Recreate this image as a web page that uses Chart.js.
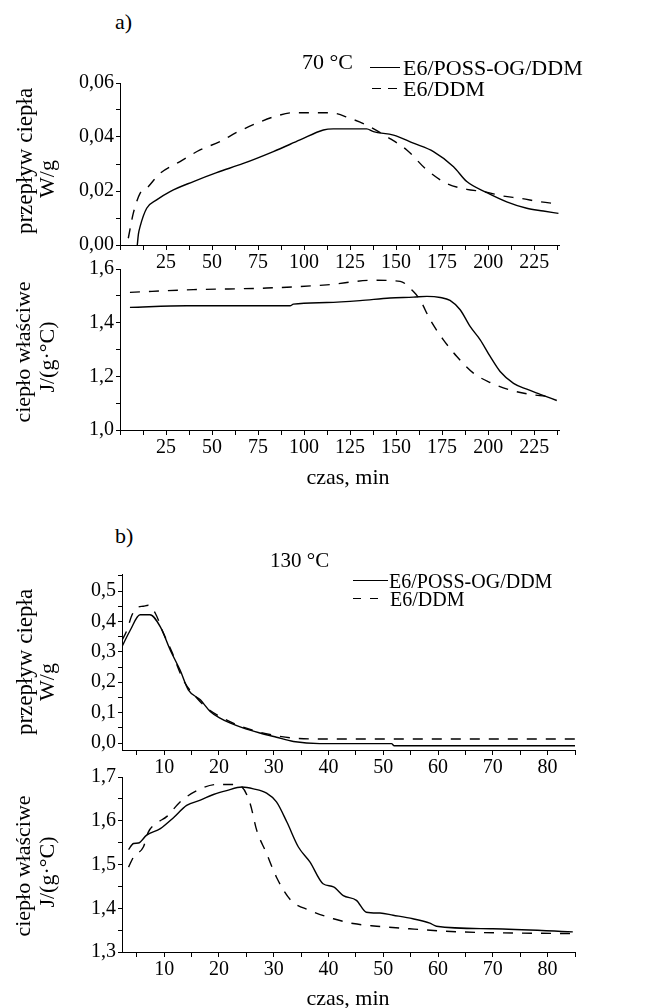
<!DOCTYPE html>
<html>
<head>
<meta charset="utf-8">
<script src="https://cdn.jsdelivr.net/npm/chart.js@4.4.0/dist/chart.umd.min.js"></script>
<style>
  body { margin: 0; background: #fff; }
  #page { position: relative; width: 650px; height: 1008px; overflow: hidden;
          font-family: "Liberation Serif", "Times New Roman", serif; color: #000; }
  .plot { position: absolute; left: 0; width: 650px; }
  .t { position: absolute; white-space: nowrap; line-height: 1; transform: translateY(-50%); }
  .c { transform: translate(-50%, -50%); }
  .r { transform: translate(-50%, -50%) rotate(-90deg); }
  .ln { position: absolute; height: 0; border-top: 1.5px solid #000; }
</style>
</head>
<body>
<div id="page">
  <div class="plot" style="top:63px;height:222px"><canvas id="aFlow"></canvas></div>
  <div class="plot" style="top:249px;height:221px"><canvas id="aCp"></canvas></div>
  <div class="plot" style="top:554px;height:236px"><canvas id="bFlow"></canvas></div>
  <div class="plot" style="top:757px;height:235px"><canvas id="bCp"></canvas></div>

  <div class="t" style="left:115px;top:22px;font-size:22px">a)</div>
  <div class="t" style="left:302px;top:62px;font-size:22px">70 °C</div>
  <div class="ln" style="left:370px;top:67px;width:30px"></div>
  <div class="t leg0" style="left:403px;top:68px;font-size:22px"></div>
  <div class="ln" style="left:372px;top:88px;width:9px"></div>
  <div class="ln" style="left:388px;top:88px;width:9px"></div>
  <div class="t leg1" style="left:403px;top:89px;font-size:22px"></div>

  <div class="t r" style="left:24px;top:161px;font-size:23px">przepływ ciepła</div>
  <div class="t r" style="left:47px;top:179px;font-size:22px">W/g</div>
  <div class="t r" style="left:23px;top:352px;font-size:22px">ciepło właściwe</div>
  <div class="t r" style="left:47px;top:357px;font-size:22px">J/(g·°C)</div>
  <div class="t c" style="left:348px;top:477px;font-size:22px">czas, min</div>

  <div class="t" style="left:115px;top:536px;font-size:22px">b)</div>
  <div class="t" style="left:270px;top:560px;font-size:21px">130 °C</div>
  <div class="ln" style="left:353px;top:580px;width:35px"></div>
  <div class="t leg0" style="left:389px;top:581px;font-size:20px"></div>
  <div class="ln" style="left:353px;top:598px;width:8px"></div>
  <div class="ln" style="left:370px;top:598px;width:8px"></div>
  <div class="t leg1" style="left:390px;top:599px;font-size:20px"></div>

  <div class="t r" style="left:24px;top:662px;font-size:23px">przepływ ciepła</div>
  <div class="t r" style="left:47px;top:682px;font-size:22px">W/g</div>
  <div class="t r" style="left:23px;top:866px;font-size:22px">ciepło właściwe</div>
  <div class="t r" style="left:47px;top:872px;font-size:22px">J/(g·°C)</div>
  <div class="t c" style="left:348px;top:998px;font-size:22px">czas, min</div>
</div>
<script>
// series names
const seriesNames = ["E6/POSS-OG/DDM", "E6/DDM"];

// a) 70 °C - heat flow, W/g
const aFlowTimeSolid = [9.4, 10, 10.9, 14.5, 19.9, 27.2, 39.9, 52.5, 67, 83.3, 97.8, 110.5, 115.9, 134, 137.7, 148.6, 159.4, 170.3, 181.2, 188.4, 199.3, 210.1, 221, 230, 238.2];
const aFlowSolid = [0, 0.004, 0.0068, 0.0136, 0.0167, 0.0198, 0.0235, 0.0268, 0.0302, 0.0346, 0.0389, 0.0426, 0.043, 0.043, 0.042, 0.0407, 0.0377, 0.0346, 0.029, 0.0235, 0.0194, 0.016, 0.0136, 0.0126, 0.0117];
const aFlowTimeDash = [4.5, 7.2, 10.9, 14.5, 21.7, 32.6, 43.5, 54.3, 63.4, 74.3, 85.1, 94.2, 114.1, 125, 134, 145, 155.8, 166.7, 177.5, 188.4, 197.5, 208.3, 217.4, 228.3, 238.2];
const aFlowDash = [0.0025, 0.0117, 0.0191, 0.021, 0.0265, 0.0309, 0.0352, 0.0383, 0.0417, 0.0451, 0.0478, 0.049, 0.049, 0.0469, 0.0444, 0.0401, 0.0352, 0.0278, 0.0228, 0.0206, 0.0198, 0.0181, 0.0173, 0.016, 0.0152];

// a) 70 °C - specific heat, J/(g·°C)
const aCpTimeSolid = [5.4, 36.2, 92.4, 94.2, 112.3, 130.4, 146.7, 159.4, 166.7, 174, 179.3, 184.8, 190.2, 195.7, 201.1, 206.5, 213.8, 221, 228.3, 237.3];
const aCpSolid = [1.457, 1.463, 1.463, 1.469, 1.475, 1.482, 1.492, 1.495, 1.498, 1.494, 1.483, 1.448, 1.386, 1.336, 1.274, 1.218, 1.174, 1.152, 1.133, 1.11];
const aCpTimeDash = [5.4, 39.9, 79.7, 112.3, 137.7, 152.2, 159.4, 163, 168.5, 175.7, 183, 192, 201.1, 212, 224.6, 235.5];
const aCpDash = [1.513, 1.523, 1.529, 1.541, 1.558, 1.554, 1.516, 1.485, 1.411, 1.336, 1.274, 1.212, 1.177, 1.149, 1.131, 1.124];

// b) 130 °C - heat flow
const bFlowTimeSolid = [2.3, 3.8, 5.6, 7.4, 9.3, 11.1, 12.9, 14.4, 16.6, 18.4, 20.2, 22, 24.5, 27.5, 30.5, 33.6, 38.4, 51.5, 52, 85];
const bFlowSolid = [0.317, 0.371, 0.422, 0.422, 0.382, 0.306, 0.24, 0.175, 0.142, 0.104, 0.082, 0.066, 0.049, 0.033, 0.019, 0.005, -0.002, -0.002, -0.009, -0.009];
const bFlowTimeDash = [2.3, 3.2, 4.1, 5.0, 6.2, 7.1, 8.4, 9.9, 11.4, 13.5, 16, 17.8, 20.2, 23.3, 26.9, 30.5, 33.6, 39.6, 85];
const bFlowDash = [0.338, 0.371, 0.42, 0.445, 0.45, 0.453, 0.426, 0.36, 0.3, 0.207, 0.147, 0.115, 0.087, 0.06, 0.038, 0.024, 0.016, 0.013, 0.013];

// b) 130 °C - specific heat
const bCpTimeSolid = [3.5, 4.4, 5.3, 6.8, 9.3, 11.7, 14.1, 16.6, 19, 21.4, 24.2, 26.3, 28.7, 30.5, 32.4, 34.5, 36.6, 39, 40.9, 42.7, 45.1, 46.9, 49.4, 51.8, 55.4, 58.5, 59.7, 70, 84.6];
const bCpSolid = [1.534, 1.548, 1.549, 1.567, 1.582, 1.607, 1.635, 1.647, 1.66, 1.669, 1.677, 1.673, 1.663, 1.643, 1.597, 1.54, 1.506, 1.456, 1.449, 1.429, 1.418, 1.391, 1.389, 1.384, 1.376, 1.366, 1.359, 1.353, 1.346];
const bCpTimeDash = [3.5, 4.4, 6.2, 7.1, 8.7, 10.5, 12.9, 16, 19.6, 22.6, 24.2, 25.7, 26.9, 28.7, 30.5, 33, 36.6, 40.9, 44.5, 48.8, 54.8, 64, 84.6];
const bCpDash = [1.494, 1.517, 1.54, 1.574, 1.595, 1.61, 1.643, 1.669, 1.683, 1.683, 1.677, 1.639, 1.578, 1.525, 1.471, 1.42, 1.395, 1.376, 1.365, 1.359, 1.353, 1.346, 1.342];

// labelled ticks
const aTimeTicks = [25, 50, 75, 100, 125, 150, 175, 200, 225];
const bTimeTicks = [10, 20, 30, 40, 50, 60, 70, 80];
const aFlowTicks = [0, 0.02, 0.04, 0.06];
const aCpTicks = [1.0, 1.2, 1.4, 1.6];
const bFlowTicks = [0, 0.1, 0.2, 0.3, 0.4, 0.5];
const bCpTicks = [1.3, 1.4, 1.5, 1.6, 1.7];

document.querySelectorAll('.leg0').forEach(el => el.textContent = seriesNames[0]);
document.querySelectorAll('.leg1').forEach(el => el.textContent = seriesNames[1]);

function pts(xs, ys) {
    return xs.map((x, i) => ({x: x, y: ys[i]}));
}

function labelFrom(list, digits) {
    return function (v) {
        const hit = list.find(t => Math.abs(t - v) < 1e-6);
        if (hit === undefined) return '';
        return digits ? hit.toFixed(digits).replace('.', ',') : String(hit);
    };
}

function axis(min, max, step, labels, digits, fit) {
    return {
        type: 'linear',
        min: min,
        max: max,
        border: {display: true, color: '#000', width: 1},
        grid: {drawOnChartArea: false, drawTicks: true, tickLength: fit.tick, color: '#000', lineWidth: 1},
        ticks: {
            stepSize: step,
            maxTicksLimit: 200,
            includeBounds: false,
            autoSkip: false,
            maxRotation: 0,
            padding: fit.pad,
            color: '#000',
            font: {family: '"Liberation Serif", "Times New Roman", serif', size: 20},
            callback: labelFrom(labels, digits)
        },
        afterFit: fit.fn
    };
}

function makeChart(id, solid, dash, xAxis, yAxis, rightPad) {
    new Chart(document.getElementById(id), {
        type: 'line',
        data: {
            datasets: [
                {label: seriesNames[0], data: solid, borderColor: '#000', borderWidth: 1.4},
                {label: seriesNames[1], data: dash, borderColor: '#000', borderWidth: 1.4, borderDash: [10, 9]}
            ]
        },
        options: {
            responsive: true,
            maintainAspectRatio: false,
            animation: false,
            layout: {padding: {top: 20, right: rightPad, bottom: 0, left: 0}},
            elements: {point: {radius: 0}, line: {cubicInterpolationMode: 'monotone'}},
            plugins: {legend: {display: false}, tooltip: {enabled: false}},
            scales: {x: xAxis, y: yAxis}
        }
    });
}

const fixX = {tick: 5, pad: 1, fn: s => { s.height = 40; }};
const fixYa = {tick: 4, pad: 2, fn: s => { s.width = 120; }};
const fixYb = {tick: 4, pad: 2, fn: s => { s.width = 122; }};

makeChart('aFlow', pts(aFlowTimeSolid, aFlowSolid), pts(aFlowTimeDash, aFlowDash),
    axis(0, 238.5, 12.5, aTimeTicks, 0, fixX),
    axis(0, 0.06, 0.01, aFlowTicks, 2, fixYa), 91);

makeChart('aCp', pts(aCpTimeSolid, aCpSolid), pts(aCpTimeDash, aCpDash),
    axis(0, 238.5, 12.5, aTimeTicks, 0, fixX),
    axis(1.0, 1.6, 0.1, aCpTicks, 1, fixYa), 91);

makeChart('bFlow', pts(bFlowTimeSolid, bFlowSolid), pts(bFlowTimeDash, bFlowDash),
    axis(2.3, 85, 5, bTimeTicks, 0, fixX),
    axis(-0.023, 0.556, 0.05, bFlowTicks, 1, fixYb), 75);

makeChart('bCp', pts(bCpTimeSolid, bCpSolid), pts(bCpTimeDash, bCpDash),
    axis(2.3, 85, 5, bTimeTicks, 0, fixX),
    axis(1.3, 1.7, 0.05, bCpTicks, 1, fixYb), 75);
</script>
</body>
</html>
